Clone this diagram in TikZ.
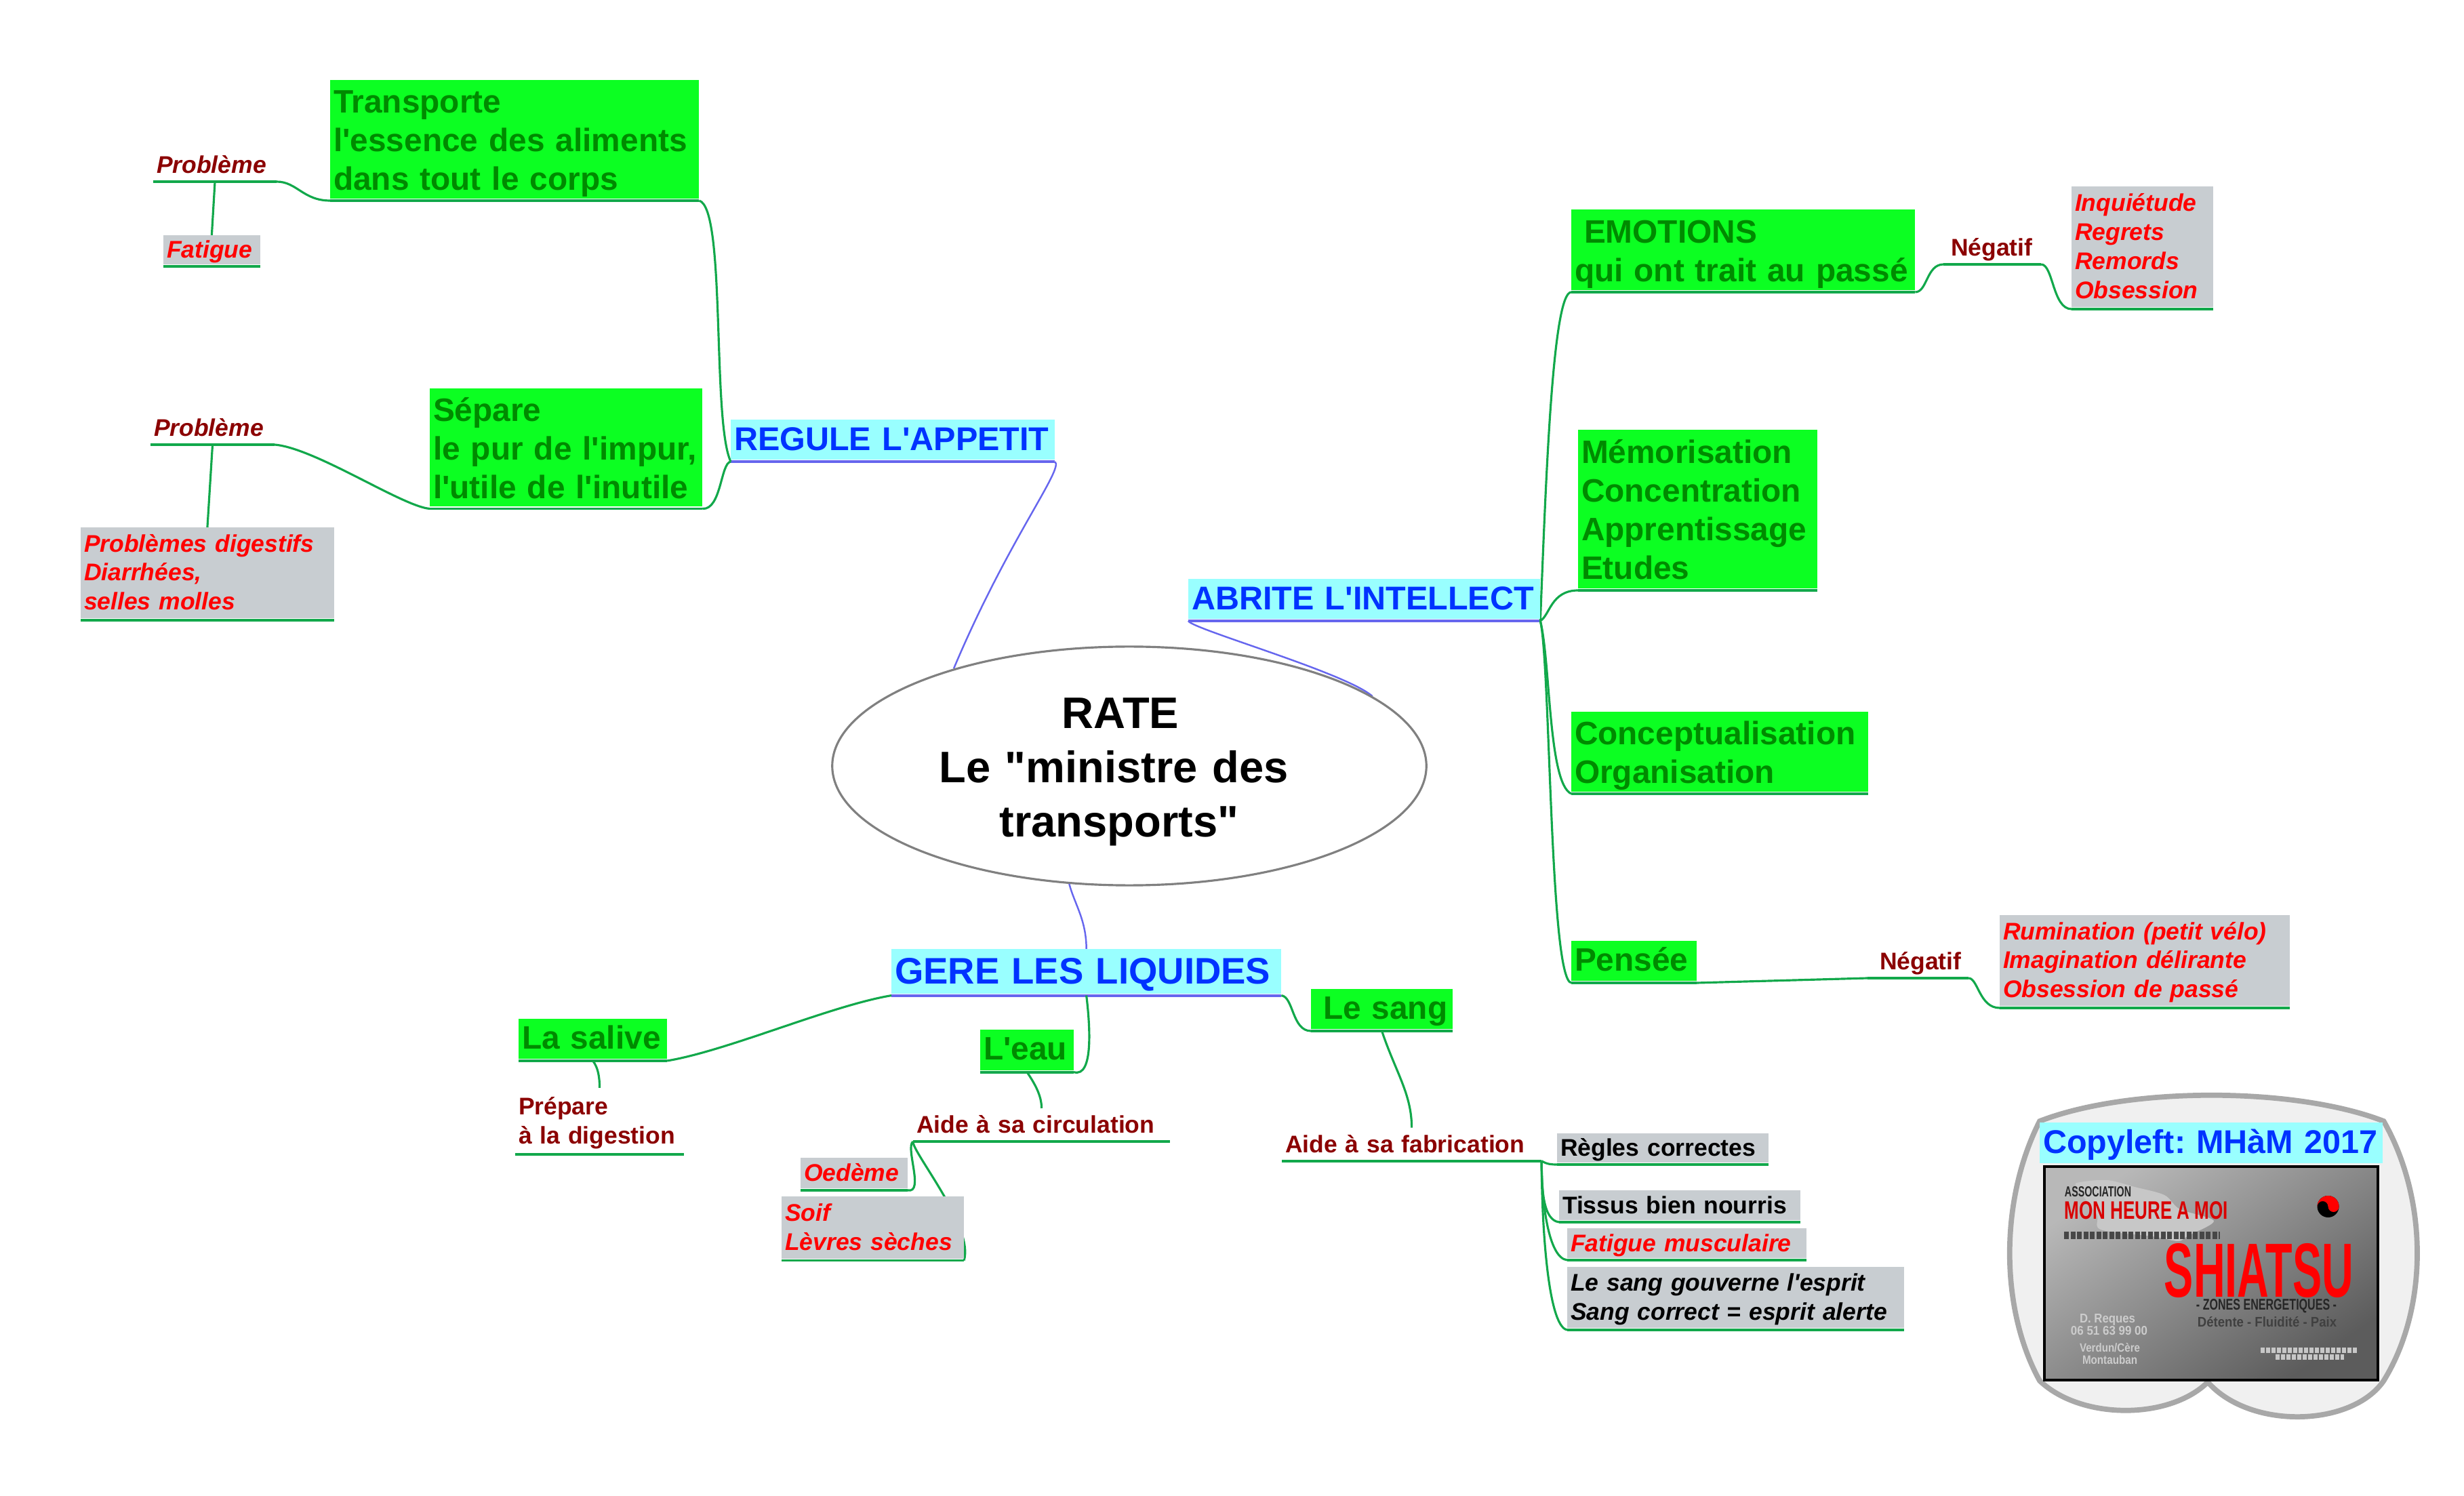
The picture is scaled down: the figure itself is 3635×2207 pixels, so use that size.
\documentclass[tikz,border=0pt]{standalone}
\usepackage{fontspec}
\usepackage{graphicx}
\setmainfont{Liberation Sans}[Ligatures=TeXOff]
\usetikzlibrary{shapes.geometric,backgrounds}
\definecolor{vertfond}{HTML}{0CFF22}
\definecolor{verttexte}{HTML}{008A00}
\definecolor{cyanfond}{HTML}{99FFFF}
\definecolor{bleutexte}{HTML}{0033FF}
\definecolor{grisfond}{HTML}{C8CDD1}
\definecolor{rougefonce}{HTML}{8B0000}
\definecolor{vertlien}{HTML}{12A84B}
\definecolor{bleulien}{HTML}{6666EE}
\def\jambagerapport{0.22}
\newcommand{\jambage}{\rule[-\jambagerapport\baselineskip]{0pt}{\baselineskip}}
\tikzset{
	descente/.code={\def\jambagerapport{#1}},
	noeud/.style={anchor=south west, inner xsep=0.05cm, inner ysep=0pt, outer xsep=0pt, outer ysep=0.03cm, align=left, execute at begin node=\jambage, execute at end node=\jambage},
	taille/.style 2 args={text width=#1cm-0.1cm, minimum height=#2cm},
	grand/.style={noeud, descente=0.18, fill=vertfond, text=verttexte, font=\fontsize{13.6}{16.2}\selectfont\bfseries},
	petitvert/.style={grand, descente=0.24},
	titre/.style={noeud, fill=cyanfond, text=bleutexte, font=\fontsize{13.8}{16.2}\selectfont\bfseries},
	gris/.style={noeud, fill=grisfond, text=black, font=\fontsize{10.1}{12.2}\selectfont\bfseries},
	grisrouge/.style={gris, text=red, font=\fontsize{10.1}{12.2}\selectfont\bfseries\itshape},
	etiquette/.style={noeud, text=rougefonce, font=\fontsize{10.1}{12.2}\selectfont\bfseries},
	lien/.style={vertlien, line width=0.9pt},
	souligne/.style={vertlien, line width=1.1pt},
	branche/.style={bleulien, line width=0.7pt},
	coque/.style={draw=black!34, fill=black!6, line width=2.2pt},
	carte/.style={inner sep=0pt, font=\bfseries}
}
\begin{document}
\frenchspacing
\begin{tikzpicture}[x=0.01cm, y=-0.01cm]
	\useasboundingbox (0,0) rectangle (3635,2207);
	% Le logo
	\draw[coque] (3009,1654) .. controls (3140,1603) and (3385,1603) .. (3516.5,1654) .. controls (3582.5,1770) and (3582.5,1930) .. (3516.5,2037) .. controls (3470,2105) and (3320,2110) .. (3257,2039) .. controls (3200,2095) and (3070,2095) .. (3009,2037) .. controls (2950,1930) and (2950,1770) .. cycle;
	\draw[draw=black, line width=1pt, top color=black!28, middle color=black!55, bottom color=black!64, shading angle=35] (3016,1721) rectangle (3508,2036);
	\fill[black!22] plot[smooth cycle] coordinates {(3069,1744) (3109,1741) (3149,1751) (3193,1763) (3216,1784) (3266,1801) (3228,1823) (3213,1831) (3176,1824) (3099,1814) (3093,1791) (3063,1751)};
	% Les textes de la carte
	\foreach \nom/\x/\y/\l/\h/\coul/\txt in {
		assoc/3095/1758.5/0.98/0.15/black!85/ASSOCIATION,
		monheure/3166.5/1786/2.41/0.26/red!85!black/MON HEURE A MOI,
		shiatsu/3332.5/1874.5/2.79/0.79/red/SHIATSU,
		zones/3343.5/1927/2.07/0.16/black!85/- ZONES ENERGETIQUES -,
		detente/3344.5/1950.5/2.05/0.15/black!75/Détente - Fluidité - Paix,
		reques/3109/1946.5/0.82/0.13/black!20/D. Reques,
		tel/3111.5/1963.5/1.13/0.13/black!20/06 51 63 99 00,
		verdun/3112.5/1988.5/0.89/0.13/black!20/{Verdun/Cère},
		montauban/3112.5/2006.5/0.81/0.13/black!20/Montauban} {
		\node[carte, text=\coul] (\nom) at (\x,\y) {\resizebox{\l cm}{\h cm}{\txt}};
	}
	% Les lignes illisibles de la carte
	\draw[black!72, line width=3.2pt, dash pattern=on 0.07cm off 0.025cm] (3045,1822.5) -- (3275,1822.5);
	\draw[black!22, line width=2.2pt, dash pattern=on 0.06cm off 0.02cm] (3335,1992) -- (3477,1992);
	\draw[black!22, line width=2.2pt, dash pattern=on 0.06cm off 0.02cm] (3357,2002) -- (3458,2002);
	% Le yin et le yang
	\begin{scope}[shift={(3434.5,1780)}]
	\fill[black] (0,0) circle (0.16cm);
	\fill[red] (-16,0) arc[start angle=180, end angle=360, radius=16] arc[start angle=0, end angle=180, radius=8] arc[start angle=0, end angle=-180, radius=8] -- cycle;
	\fill[black] (-8,0) circle (0.03cm);
	\fill[red] (8,0) circle (0.03cm);
	\end{scope}
	% Le centre
	\node[shape=ellipse, draw=black!50, fill=white, line width=0.9pt, minimum width=8.76cm, minimum height=3.52cm, inner sep=0pt, text width=5.8cm, align=center, font=\fontsize{18.5}{22.7}\selectfont\bfseries, descente=0.19, execute at begin node=\jambage, execute at end node=\jambage] (rate) at (1666,1130) {RATE\hspace*{0.26cm}\mbox{}\\Le "ministre des\hspace*{0.46cm}\mbox{}\\transports"\hspace*{0.30cm}};
	% Les trois fonctions
	\node[titre, taille={4.78}{0.59}] (regule) at (1078,681) {REGULE L'APPETIT};
	\node[titre, taille={5.19}{0.59}] (abrite) at (1753,916) {ABRITE L'INTELLECT};
	\node[titre, taille={5.75}{0.65}, font=\fontsize{15.5}{18.6}\selectfont\bfseries] (gere) at (1315,1468.6) {GERE LES LIQUIDES};
	\node[titre, taille={5.06}{0.59}] (copyleft) at (3009,1718.5) {Copyleft: MHàM 2017};
	% Les cadres verts
	\node[grand, taille={5.44}{1.745}] (transporte) at (487,296) {Transporte\\l'essence des aliments\\dans tout le corps};
	\node[grand, taille={4.02}{1.74}] (separe) at (634,750.5) {Sépare\\le pur de l'impur,\\l'utile de l'inutile};
	\node[grand, taille={5.07}{1.19}] (emotions) at (2318,431) {\hspace*{0.14cm}EMOTIONS\\qui ont trait au passé};
	\node[grand, taille={3.53}{2.34}] (memo) at (2328,871) {Mémorisation\\Concentration\\Apprentissage\\Etudes};
	\node[grand, taille={4.38}{1.18}] (concept) at (2318,1171) {Conceptualisation\\Organisation};
	\node[petitvert, taille={1.85}{0.59}] (pensee) at (2318,1450) {Pensée};
	\node[petitvert, taille={2.19}{0.59}] (salive) at (765,1565) {La salive};
	\node[petitvert, taille={1.38}{0.60}] (leau) at (1446,1581.6) {L'eau};
	\node[petitvert, taille={2.09}{0.585}] (lesang) at (1934,1521) {\hspace*{0.13cm}Le sang};
	% Les cadres gris
	\node[grisrouge, taille={1.43}{0.42}] (fatigue) at (241,393) {Fatigue};
	\node[grisrouge, taille={3.74}{1.34}] (probdig) at (119,915) {Problèmes digestifs\\Diarrhées,\\selles molles};
	\node[grisrouge, taille={2.09}{1.78}] (inquietude) at (3056,456) {Inquiétude\\Regrets\\Remords\\Obsession};
	\node[grisrouge, taille={4.28}{1.34}] (rumination) at (2950,1487) {Rumination (petit vélo)\\Imagination délirante\\Obsession de passé};
	\node[grisrouge, taille={1.58}{0.445}] (oedeme) at (1181,1756) {Oedème};
	\node[grisrouge, taille={2.69}{0.91}] (soif) at (1153,1859.5) {Soif\\Lèvres sèches};
	\node[gris, taille={3.12}{0.42}] (regles) at (2297,1718) {Règles correctes};
	\node[gris, taille={3.56}{0.44}] (tissus) at (2300,1803) {Tissus bien nourris};
	\node[grisrouge, taille={3.53}{0.435}] (fatmus) at (2312,1859) {Fatigue musculaire};
	\node[grisrouge, text=black, taille={4.97}{0.90}] (sangesprit) at (2312,1962) {Le sang gouverne l'esprit\\Sang correct = esprit alerte};
	% Les etiquettes
	\node[etiquette, font=\fontsize{10.1}{12.2}\selectfont\bfseries\itshape, taille={1.82}{0.43}] (pbun) at (226,268) {Problème};
	\node[etiquette, font=\fontsize{10.1}{12.2}\selectfont\bfseries\itshape, taille={1.83}{0.43}] (pbdeux) at (222,656) {Problème};
	\node[etiquette, taille={1.44}{0.43}] (negun) at (2867,390) {\hspace*{0.06cm}Négatif};
	\node[etiquette, taille={1.49}{0.43}] (negdeux) at (2755,1443) {\hspace*{0.13cm}Négatif};
	\node[etiquette, taille={2.49}{0.92}] (prepare) at (760,1703) {Prépare\\à la digestion};
	\node[etiquette, taille={3.79}{0.43}] (aidecirc) at (1347,1684) {Aide à sa circulation};
	\node[etiquette, taille={3.83}{0.43}] (aidefab) at (1891,1712.7) {Aide à sa fabrication};
	% Les liens passent sous les cadres
	\begin{scope}[on background layer]
	\foreach \n in {regule,abrite,gere,copyleft} {
	\draw[bleulien, line width=1.1pt] (\n.south west) -- (\n.south east);
	}
	\foreach \n in {transporte,separe,emotions,memo,concept,pensee,salive,leau,lesang,fatigue,probdig,inquietude,rumination,oedeme,soif,regles,tissus,fatmus,sangesprit,pbun,pbdeux,negun,negdeux,prepare,aidecirc,aidefab} {
	\draw[souligne] (\n.south west) -- (\n.south east);
	}
	% Du centre vers les fonctions
	\draw[branche] (regule.south east) .. controls +(14,10) and +(80,-190) .. (rate.151.2);
	\draw[branche] (abrite.south west) .. controls +(5,12) and +(-40,-35) .. (rate.16.2);
	\draw[branche, shorten >=-0.03cm] (rate.243.3) .. controls +(8,30) and +(0,-40) .. (gere.north);
	% Regule l'appetit
	\draw[lien] (transporte.south east) .. controls +(40,10) and +(-28,-60) .. (regule.south west);
	\draw[lien] (separe.south east) .. controls +(28,2) and +(-15,2) .. (regule.south west);
	\draw[lien] (transporte.south west) .. controls +(-40,0) and +(30,0) .. (pbun.south east);
	\draw[lien] (separe.south west) .. controls +(-40,-3) and +(60,5) .. (pbdeux.south east);
	\draw[lien, shorten >=-0.03cm] (pbun.south) -- (fatigue.north);
	\draw[lien, shorten >=-0.03cm] (pbdeux.south) -- (probdig.north);
	% Abrite l'intellect
	\draw[lien] (abrite.south east) .. controls +(8,-200) and +(-28,0) .. (emotions.south west);
	\draw[lien] (abrite.south east) .. controls +(14,-8) and +(-40,0) .. (memo.south west);
	\draw[lien] (abrite.south east) .. controls +(15,60) and +(-34,-15) .. (concept.south west);
	\draw[lien] (abrite.south east) .. controls +(15,60) and +(-32,-5) .. (pensee.south west);
	\draw[lien] (emotions.south east) .. controls +(18,0) and +(-25,0) .. (negun.south west);
	\draw[lien] (negun.south east) .. controls +(18,0) and +(-28,0) .. (inquietude.south west);
	\draw[lien] (pensee.south east) -- (negdeux.south west);
	\draw[lien] (negdeux.south east) .. controls +(14,0) and +(-30,0) .. (rumination.south west);
	% Gere les liquides
	\draw[lien] (gere.south west) .. controls +(-90,15) and +(90,-15) .. (salive.south east);
	\draw[lien] (gere.south) .. controls +(5,41) and +(30,9) .. (leau.south east);
	\draw[lien] (gere.south east) .. controls +(18,2) and +(-28,0) .. (lesang.south west);
	\draw[lien] (salive.south) .. controls +(8,10) and +(0,-15) .. (prepare.north);
	\draw[lien] (leau.south) .. controls +(10,15) and +(0,-20) .. (aidecirc.north);
	\draw[lien] (lesang.south) .. controls +(20,60) and +(0,-50) .. (aidefab.north);
	\draw[lien] (aidecirc.south west) .. controls +(-12,8) and +(25,5) .. (oedeme.south east);
	\draw[lien] (aidecirc.south west) .. controls +(-2,15) and +(15,-50) .. (soif.south east);
	\draw[lien] (aidefab.south east) .. controls +(8,5) and +(-8,0) .. (regles.south west);
	\draw[lien] (aidefab.south east) .. controls +(0,40) and +(-24,-3) .. (tissus.south west);
	\draw[lien] (aidefab.south east) .. controls +(0,60) and +(-28,-3) .. (fatmus.south west);
	\draw[lien] (aidefab.south east) .. controls +(0,80) and +(-30,-5) .. (sangesprit.south west);
	\end{scope}
\end{tikzpicture}
\end{document}
